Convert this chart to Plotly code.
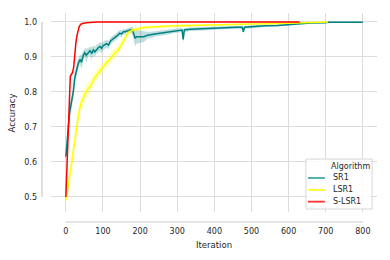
import plotly.graph_objects as go

# ---------------- data ----------------
sr1_x = [0, 3, 6, 10, 15, 20, 24, 29, 33, 38, 42, 47, 51, 55, 60, 65, 70, 74, 78, 83,
         88, 92, 96, 100, 105, 110, 115, 120, 125, 130, 135, 140, 145, 150, 155, 160,
         165, 170, 175, 180, 184, 187, 190, 200, 210, 220, 230, 240, 253, 265, 280,
         295, 307, 313, 316, 319, 334, 350, 375, 400, 429, 460, 475, 478, 481, 500,
         536, 570, 600, 631, 660, 700, 706, 750, 800]
sr1_y = [0.615, 0.66, 0.70, 0.74, 0.77, 0.80, 0.84, 0.865, 0.88, 0.893, 0.885, 0.905,
         0.912, 0.905, 0.912, 0.918, 0.91, 0.92, 0.915, 0.922, 0.927, 0.93, 0.925, 0.932,
         0.935, 0.938, 0.934, 0.945, 0.95, 0.955, 0.958, 0.962, 0.968, 0.966, 0.972,
         0.972, 0.974, 0.977, 0.978, 0.975, 0.96, 0.953, 0.958, 0.958, 0.958, 0.962,
         0.963, 0.966, 0.968, 0.970, 0.972, 0.975, 0.977, 0.977, 0.95, 0.977, 0.979,
         0.98, 0.981, 0.983, 0.984, 0.985, 0.985, 0.972, 0.985, 0.987, 0.989, 0.99,
         0.993, 0.996, 0.997, 0.998, 0.999, 0.999, 0.999]
sr1_err = [0.012, 0.02, 0.02, 0.02, 0.02, 0.02, 0.02, 0.018, 0.015, 0.014, 0.02, 0.013,
           0.012, 0.02, 0.012, 0.012, 0.018, 0.012, 0.015, 0.012, 0.012, 0.012, 0.015,
           0.012, 0.012, 0.011, 0.012, 0.01, 0.01, 0.01, 0.01, 0.01, 0.009, 0.01, 0.008,
           0.008, 0.008, 0.008, 0.008, 0.012, 0.02, 0.022, 0.02, 0.018, 0.015, 0.01,
           0.009, 0.008, 0.008, 0.007, 0.007, 0.006, 0.006, 0.006, 0.01, 0.006, 0.005,
           0.005, 0.005, 0.005, 0.004, 0.004, 0.004, 0.006, 0.004, 0.004, 0.003, 0.003,
           0.003, 0.002, 0.002, 0.001, 0.001, 0.001, 0.001]

lsr1_x = [0, 5, 10, 15, 20, 25, 30, 35, 40, 45, 50, 55, 60, 65, 70, 75, 80, 85, 90, 95,
          100, 110, 120, 130, 140, 150, 158, 165, 172, 180, 190, 200, 220, 250, 290,
          330, 360, 400, 450, 500, 550, 600, 650, 700, 706]
lsr1_y = [0.49, 0.52, 0.55, 0.59, 0.63, 0.67, 0.71, 0.74, 0.765, 0.78, 0.79, 0.80, 0.81,
          0.815, 0.825, 0.835, 0.845, 0.85, 0.858, 0.865, 0.87, 0.885, 0.895, 0.91, 0.918,
          0.935, 0.95, 0.965, 0.972, 0.977, 0.98, 0.982, 0.985, 0.987, 0.989, 0.99, 0.991,
          0.992, 0.993, 0.994, 0.995, 0.996, 0.997, 0.999, 1.0]
lsr1_err = [0.01, 0.02, 0.025, 0.025, 0.025, 0.025, 0.025, 0.022, 0.02, 0.02, 0.02, 0.02,
            0.018, 0.018, 0.018, 0.018, 0.016, 0.016, 0.016, 0.015, 0.015, 0.015, 0.014,
            0.014, 0.013, 0.012, 0.01, 0.008, 0.007, 0.006, 0.005, 0.005, 0.004, 0.004,
            0.003, 0.003, 0.003, 0.003, 0.002, 0.002, 0.002, 0.002, 0.001, 0.001, 0.0]

slsr1_x = [0, 4, 8, 11, 12, 15, 18, 21, 24, 27, 30, 33, 36, 40, 45, 55, 70, 85, 630]
slsr1_y = [0.50, 0.60, 0.72, 0.80, 0.845, 0.85, 0.855, 0.87, 0.91, 0.94, 0.962, 0.977,
           0.987, 0.993, 0.996, 0.998, 0.999, 1.0, 1.0]
slsr1_err = [0.003, 0.006, 0.006, 0.006, 0.005, 0.005, 0.005, 0.005, 0.005, 0.004, 0.004,
             0.003, 0.002, 0.002, 0.001, 0.001, 0.0, 0.0, 0.0]

names = ["SR1", "LSR1", "S-LSR1"]
line_colors = ["#008080", "#ffff00", "#ff0000"]
band_colors = ["rgba(0,128,128,0.25)", "rgba(255,255,0,0.25)", "rgba(255,0,0,0.2)"]
legend_colors = ["#45a9a9", "#ffff33", "#ff3333"]
x_ticks = [0, 100, 200, 300, 400, 500, 600, 700, 800]
y_ticks = [0.5, 0.6, 0.7, 0.8, 0.9, 1.0]

series = [(sr1_x, sr1_y, sr1_err), (lsr1_x, lsr1_y, lsr1_err), (slsr1_x, slsr1_y, slsr1_err)]

fig = go.Figure()
for (xs, ys, es), name, lc, bc in zip(series, names, line_colors, band_colors):
    lo = [y - e for y, e in zip(ys, es)]
    hi = [y + e for y, e in zip(ys, es)]
    fig.add_trace(go.Scatter(x=xs + xs[::-1], y=hi + lo[::-1], fill="toself",
                             fillcolor=bc, line=dict(width=0), mode="lines",
                             hoverinfo="skip", showlegend=False))
    fig.add_trace(go.Scatter(x=xs, y=ys, mode="lines", name=name,
                             line=dict(color=lc, width=1.5), showlegend=False))

TXT = "#262626"
FONT = "DejaVu Sans"
GRID = "#dcdcdc"

fig.update_layout(
    width=390, height=260,
    margin=dict(l=51, r=13, t=13, b=48, autoexpand=False),
    paper_bgcolor="white", plot_bgcolor="white",
    font=dict(family=FONT, size=8, color=TXT),
    showlegend=False,
    xaxis=dict(range=[-40, 838], tickvals=x_ticks, ticktext=[str(v) for v in x_ticks],
               showgrid=True, gridcolor=GRID, gridwidth=1, zeroline=False,
               showline=False, ticks="", ticklabelstandoff=13, automargin=False,
               tickfont=dict(size=8, color=TXT, family=FONT)),
    yaxis=dict(range=[0.457, 1.0257], tickvals=y_ticks,
               ticktext=["%.1f" % v for v in y_ticks],
               showgrid=True, gridcolor=GRID, gridwidth=1, zeroline=False,
               showline=False, ticks="", ticklabelstandoff=13, automargin=False,
               tickfont=dict(size=8, color=TXT, family=FONT)),
)

# trimmed, offset spines (seaborn despine style)
fig.add_shape(type="line", xref="paper", yref="y", x0=-0.0276, x1=-0.0276,
              y0=y_ticks[0], y1=y_ticks[-1], line=dict(color="#cccccc", width=1.2))
fig.add_shape(type="line", xref="x", yref="paper", x0=x_ticks[0], x1=x_ticks[-1],
              y0=-0.0503, y1=-0.0503, line=dict(color="#cccccc", width=1.2))

# axis titles
fig.add_annotation(text="Iteration", xref="paper", yref="paper", x=0.5, y=-0.166,
                   showarrow=False, font=dict(size=8.5, color=TXT, family=FONT),
                   xanchor="center", yanchor="middle")
fig.add_annotation(text="Accuracy", xref="paper", yref="paper", x=-0.12, y=0.5,
                   showarrow=False, textangle=-90,
                   font=dict(size=8.5, color=TXT, family=FONT),
                   xanchor="center", yanchor="middle")

# legend box (matplotlib-style)
lx0, lx1, ly0, ly1 = 0.782, 0.985, 0.015, 0.266
fig.add_shape(type="rect", xref="paper", yref="paper", x0=lx0, x1=lx1, y0=ly0, y1=ly1,
              line=dict(color="#d6d6d6", width=1), fillcolor="rgba(255,255,255,0.85)")
fig.add_annotation(text="Algorithm", xref="paper", yref="paper", x=0.919, y=0.231,
                   showarrow=False, font=dict(size=8, color=TXT, family=FONT),
                   xanchor="center", yanchor="middle")
for name, col, yy in zip(names, legend_colors, [0.171, 0.111, 0.052]):
    fig.add_shape(type="line", xref="paper", yref="paper", x0=0.788, x1=0.840,
                  y0=yy, y1=yy, line=dict(color=col, width=1.8))
    fig.add_annotation(text=name, xref="paper", yref="paper", x=0.859, y=yy,
                       showarrow=False, font=dict(size=8, color=TXT, family=FONT),
                       xanchor="left", yanchor="middle")

fig.write_html("out.html", config={"displayModeBar": False, "staticPlot": True},
               post_script="document.body.style.margin='0';document.body.style.padding='0';")
